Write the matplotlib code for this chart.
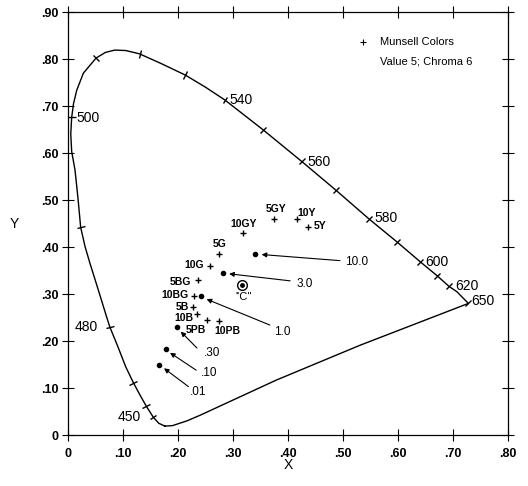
import numpy as np
import matplotlib
matplotlib.use('Agg')
import matplotlib.pyplot as plt
from matplotlib.markers import MarkerStyle
from matplotlib.transforms import Affine2D

plt.rcParams['font.family'] = ['Liberation Sans Narrow', 'Liberation Sans', 'DejaVu Sans']

# spectral locus (blue end -> red end), then purple line back
locus_x = [0.176, 0.165, 0.155, 0.142, 0.130, 0.119, 0.105, 0.090, 0.076, 0.070, 0.055,
           0.040, 0.031, 0.023, 0.019, 0.016, 0.0127, 0.0067, 0.005, 0.0067, 0.010, 0.016,
           0.028, 0.051, 0.068, 0.085, 0.105, 0.130, 0.170, 0.213, 0.250, 0.285, 0.354,
           0.425, 0.487, 0.548, 0.598, 0.640, 0.671, 0.693, 0.707, 0.728,
           0.531, 0.379, 0.240, 0.216, 0.190, 0.176]
locus_y = [0.019, 0.025, 0.038, 0.062, 0.087, 0.111, 0.145, 0.190, 0.230, 0.252, 0.309,
           0.365, 0.401, 0.442, 0.493, 0.528, 0.564, 0.603, 0.640, 0.676, 0.705, 0.734,
           0.770, 0.802, 0.814, 0.819, 0.818, 0.811, 0.790, 0.766, 0.740, 0.713, 0.650,
           0.582, 0.521, 0.459, 0.411, 0.369, 0.339, 0.316, 0.305, 0.280,
           0.191, 0.117, 0.042, 0.030, 0.020, 0.019]
n_spectral = 42

# wavelength tick marks on the locus
wl_tick_x = [0.155, 0.142, 0.119, 0.076, 0.023, 0.0067, 0.051, 0.130, 0.213, 0.285, 0.354,
             0.425, 0.487, 0.548, 0.598, 0.640, 0.671, 0.693, 0.728]
wl_tick_y = [0.038, 0.062, 0.111, 0.230, 0.442, 0.676, 0.802, 0.811, 0.766, 0.713, 0.650,
             0.582, 0.521, 0.459, 0.411, 0.369, 0.339, 0.316, 0.280]

wl_labels = ['500', '540', '560', '580', '600', '620', '650']
wl_label_x = [0.016, 0.293, 0.435, 0.558, 0.649, 0.704, 0.734]
wl_label_y = [0.674, 0.713, 0.580, 0.461, 0.369, 0.317, 0.286]
wl_labels_c = ['480', '450']
wl_label_c_x = [0.033, 0.111]
wl_label_c_y = [0.230, 0.039]

# Munsell colours, value 5 chroma 6
munsell_names = ['5GY', '10Y', '5Y', '10GY', '5G', '10G', '5BG', '10BG', '5B', '10B', '5PB', '10PB']
munsell_x = [0.375, 0.416, 0.437, 0.319, 0.275, 0.258, 0.237, 0.229, 0.228, 0.235, 0.253, 0.275]
munsell_y = [0.459, 0.460, 0.442, 0.429, 0.385, 0.360, 0.330, 0.296, 0.273, 0.257, 0.245, 0.243]
munsell_lab_x = [0.379, 0.434, 0.458, 0.319, 0.276, 0.229, 0.205, 0.194, 0.2085, 0.211, 0.232, 0.290]
munsell_lab_y = [0.480, 0.473, 0.445, 0.450, 0.406, 0.361, 0.326, 0.298, 0.272, 0.250, 0.223, 0.222]

# marked points with arrows
pt_names = ['10.0', '3.0', '1.0', '.30', '.10', '.01']
pt_x = [0.340, 0.282, 0.242, 0.199, 0.179, 0.166]
pt_y = [0.385, 0.344, 0.296, 0.230, 0.184, 0.150]
arr_head_x = [0.352, 0.293, 0.252, 0.205, 0.1855, 0.1745]
arr_head_y = [0.384, 0.343, 0.289, 0.220, 0.175, 0.142]
arr_tail_x = [0.4945, 0.404, 0.367, 0.2345, 0.233, 0.219]
arr_tail_y = [0.371, 0.328, 0.234, 0.185, 0.138, 0.103]
pt_lab_x = [0.504, 0.416, 0.375, 0.247, 0.242, 0.222]
pt_lab_y = [0.368, 0.321, 0.219, 0.175, 0.132, 0.092]

illum_c = (0.316, 0.319)

x_ticks = [0, 0.1, 0.2, 0.3, 0.4, 0.5, 0.6, 0.7, 0.8]
x_tick_labels = ['0', '.10', '.20', '.30', '.40', '.50', '.60', '.70', '.80']
y_ticks = [0, 0.1, 0.2, 0.3, 0.4, 0.5, 0.6, 0.7, 0.8, 0.9]
y_tick_labels = ['0', '.10', '.20', '.30', '.40', '.50', '.60', '.70', '.80', '.90']

fig = plt.figure(figsize=(5.28, 4.86), dpi=100)
ax = fig.add_axes([0.1288, 0.1049, 0.8333, 0.8704])

ax.plot(locus_x, locus_y, color='k', lw=1.0)

# short marks across the locus, perpendicular to it (direction in screen pixels)
lx = np.array(locus_x[:n_spectral]) * 550
ly = np.array(locus_y[:n_spectral]) * 470
for tx, ty in zip(wl_tick_x, wl_tick_y):
    i = int(np.argmin((lx - tx * 550) ** 2 + (ly - ty * 470) ** 2))
    a, b = max(i - 1, 0), min(i + 1, n_spectral - 1)
    ang = np.degrees(np.arctan2(ly[b] - ly[a], lx[b] - lx[a]))
    m = MarkerStyle('|', transform=Affine2D().rotate_deg(ang))
    ax.plot(tx, ty, marker=m, ms=6, mew=1.0, color='k')

for t, x0, y0 in zip(wl_labels, wl_label_x, wl_label_y):
    ax.text(x0, y0, t, fontsize=10, ha='left', va='center')
for t, x0, y0 in zip(wl_labels_c, wl_label_c_x, wl_label_c_y):
    ax.text(x0, y0, t, fontsize=10, ha='center', va='center')

ax.plot(munsell_x, munsell_y, ls='none', marker='+', ms=5, mew=1.0, color='k')
for t, x0, y0 in zip(munsell_names, munsell_lab_x, munsell_lab_y):
    ax.text(x0, y0, t, fontsize=7.5, fontweight='bold', ha='center', va='center')

ax.plot(pt_x, pt_y, ls='none', marker='o', ms=3, color='k')
for i in range(len(pt_names)):
    ax.annotate('', xy=(arr_head_x[i], arr_head_y[i]), xytext=(arr_tail_x[i], arr_tail_y[i]),
                arrowprops=dict(arrowstyle='-|>', lw=0.8, color='k', mutation_scale=7,
                                shrinkA=0, shrinkB=0))
    ax.text(pt_lab_x[i], pt_lab_y[i], pt_names[i], fontsize=8.5, ha='left', va='center')

ax.plot(*illum_c, marker='o', ms=7, mfc='none', mec='k', mew=1.0)
ax.plot(*illum_c, marker='o', ms=2.5, color='k')
ax.text(0.319, 0.293, "''C''", fontsize=8, ha='center', va='center')

# legend
ax.plot(0.536, 0.836, marker='+', ms=5, mew=0.8, color='k')
ax.text(0.567, 0.837, 'Munsell Colors', fontsize=8, ha='left', va='center')
ax.text(0.567, 0.794, 'Value 5; Chroma 6', fontsize=8, ha='left', va='center')

ax.set_xlim(0, 0.8)
ax.set_ylim(0, 0.9)
ax.set_xticks(x_ticks)
ax.set_xticklabels(x_tick_labels, fontsize=9, fontweight='bold')
ax.set_yticks(y_ticks)
ax.set_yticklabels(y_tick_labels, fontsize=9, fontweight='bold')
ax.tick_params(direction='inout', length=8, width=0.8, top=True, right=True, pad=3)
ax.tick_params(axis='x', pad=5)
for s in ax.spines.values():
    s.set_linewidth(0.9)

fig.text(288 / 528, 1 - 465 / 486, 'X', fontsize=10, ha='center', va='center')
fig.text(14 / 528, 1 - 224 / 486, 'Y', fontsize=10, ha='center', va='center')

fig.savefig('out.png', dpi=100)
